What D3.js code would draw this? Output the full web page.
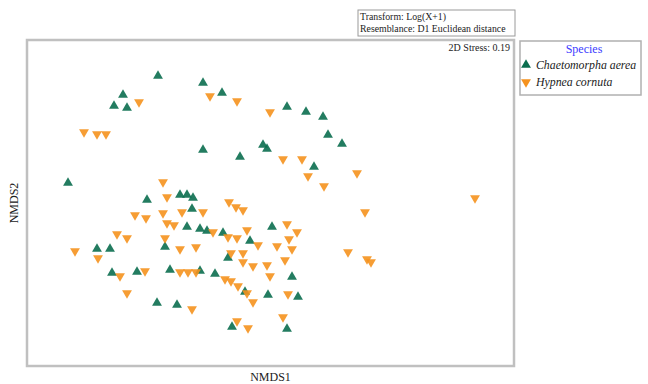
<!DOCTYPE html>
<html>
<head>
<meta charset="utf-8">
<script src="https://cdn.jsdelivr.net/npm/d3@7"></script>
<style>
  html, body { margin: 0; padding: 0; background: #fff; }
  svg { display: block; font-family: "Liberation Serif", "Times New Roman", serif; }
</style>
</head>
<body>
<svg id="chart" width="648" height="384"></svg>
<script>
// NMDS ordination scores (dimensionless) for each sample
const chaetomorphaX = [-1.12,-0.67,-1.47,-1.56,-1.43,-0.48,0.17,0.36,0.53,0.58,0.72,-0.67,-0.30,-0.07,-0.03,0.44,
  -2.02,-1.23,-0.90,-0.83,-0.77,-0.78,-0.83,-0.70,-0.63,-0.47,-0.20,0.02,-1.73,-1.60,-1.05,-0.42,
  -1.58,-1.33,-1.00,-0.70,-0.55,-0.25,-0.02,0.28,0.22,-1.13,-0.93,-0.38,0.17];
const chaetomorphaY = [1.27,1.20,1.08,0.97,0.95,1.10,0.96,0.91,0.86,0.68,0.59,0.53,0.46,0.58,0.54,0.36,
  0.20,0.03,0.08,0.08,0.05,-0.06,-0.24,-0.26,-0.28,-0.30,-0.38,-0.24,-0.46,-0.46,-0.44,-0.55,
  -0.70,-0.69,-0.67,-0.68,-0.71,-0.89,-0.92,-0.94,-0.74,-1.00,-1.02,-1.24,-1.26];

const hypneaX = [-1.86,-1.73,-1.64,-1.31,-0.60,-0.33,0.00,0.13,0.32,0.38,0.54,0.87,2.05,0.95,
  -1.07,-1.03,-1.35,-1.24,-1.07,-0.88,-0.67,-0.41,-0.34,-0.27,-1.03,-0.96,-0.57,-0.42,-0.33,-0.23,
  -0.12,0.17,0.27,0.19,0.07,0.22,0.15,-0.17,-0.03,0.00,-1.53,-1.43,-1.05,-0.90,-0.74,-1.95,-1.72,
  -0.39,-0.27,-0.27,0.78,0.97,1.01,-1.50,-1.25,-0.90,-0.82,-0.74,-0.45,-0.39,-0.32,-0.23,-0.17,
  -1.43,-0.78,0.18,0.13,-0.33,-0.22];
const hypneaY = [0.71,0.69,0.69,1.01,1.07,1.02,0.91,0.44,0.44,0.27,0.17,0.30,0.05,-0.09,
  0.21,0.06,-0.12,-0.15,-0.10,-0.09,-0.09,0.01,-0.04,-0.07,-0.20,-0.22,-0.29,-0.34,-0.35,-0.27,
  -0.42,-0.21,-0.29,-0.36,-0.43,-0.46,-0.57,-0.63,-0.62,-0.73,-0.31,-0.35,-0.35,-0.46,-0.44,-0.48,-0.55,
  -0.50,-0.50,-0.59,-0.49,-0.56,-0.59,-0.73,-0.68,-0.69,-0.69,-0.69,-0.76,-0.78,-0.83,-0.90,-0.99,
  -0.90,-1.06,-0.91,-1.14,-1.18,-1.25];

const speciesNames = ["Chaetomorpha aerea", "Hypnea cornuta"];
const speciesColors = ["#0b6e4f", "#f5921e"];
const infoLines = ["Transform: Log(X+1)", "Resemblance: D1 Euclidean distance"];
const stressText = "2D Stress: 0.19";

const svg = d3.select("#chart");
const plot = { left: 27, right: 514, top: 40, bottom: 366 };

const x = d3.scaleLinear().domain([-2.43, 2.44]).range([plot.left, plot.right]);
const y = d3.scaleLinear().domain([-1.63, 1.63]).range([plot.bottom, plot.top]);

// Plot frame
svg.append("rect")
  .attr("x", plot.left).attr("y", plot.top)
  .attr("width", plot.right - plot.left).attr("height", plot.bottom - plot.top)
  .attr("fill", "#fff").attr("stroke", "#c0c0c0").attr("stroke-width", 2.5);

// Points
const tri = d3.symbol().type(d3.symbolTriangle).size(42);

const series = [
  { xs: chaetomorphaX, ys: chaetomorphaY, rot: 0 },
  { xs: hypneaX, ys: hypneaY, rot: 180 }
];
series.forEach((s, i) => {
  const pts = s.xs.map((v, j) => [v, s.ys[j]]);
  svg.append("g").selectAll("path").data(pts).join("path")
    .attr("d", tri())
    .attr("transform", d => `translate(${x(d[0])},${y(d[1])}) rotate(${s.rot})`)
    .attr("fill", speciesColors[i])
    .attr("fill-opacity", 0.9);
});

// Stress value
svg.append("text")
  .attr("x", plot.right - 4).attr("y", plot.top + 11)
  .attr("text-anchor", "end").attr("font-size", 10).attr("fill", "#222")
  .text(stressText);

// Transform / resemblance box
const info = svg.append("g");
info.append("rect").attr("x", 358).attr("y", 10).attr("width", 157).attr("height", 26)
  .attr("fill", "#fff").attr("stroke", "#9a9a9a").attr("stroke-width", 1);
infoLines.forEach((t, i) => {
  info.append("text").attr("x", 360).attr("y", 20 + i * 12)
    .attr("font-size", 9.8).attr("fill", "#222").text(t);
});

// Legend
const lg = svg.append("g");
lg.append("rect").attr("x", 520).attr("y", 41).attr("width", 121).attr("height", 54)
  .attr("fill", "#fff").attr("stroke", "#b0b0b0").attr("stroke-width", 1.5);
lg.append("text").attr("x", 584).attr("y", 53).attr("text-anchor", "middle")
  .attr("font-size", 12).attr("fill", "#3b3bff").text("Species");
speciesNames.forEach((name, i) => {
  const cy = 65 + i * 17;
  lg.append("path").attr("d", tri())
    .attr("transform", `translate(526,${cy}) rotate(${i === 0 ? 0 : 180})`)
    .attr("fill", speciesColors[i]);
  lg.append("text").attr("x", 536).attr("y", cy + 4)
    .attr("font-size", 11.8).attr("font-style", "italic").attr("fill", "#222").text(name);
});

// Axis titles
svg.append("text").attr("x", (plot.left + plot.right) / 2).attr("y", 381)
  .attr("text-anchor", "middle").attr("font-size", 12).attr("fill", "#222").text("NMDS1");
svg.append("text")
  .attr("transform", `translate(18,${(plot.top + plot.bottom) / 2}) rotate(-90)`)
  .attr("text-anchor", "middle").attr("font-size", 12).attr("fill", "#222").text("NMDS2");
</script>
</body>
</html>
